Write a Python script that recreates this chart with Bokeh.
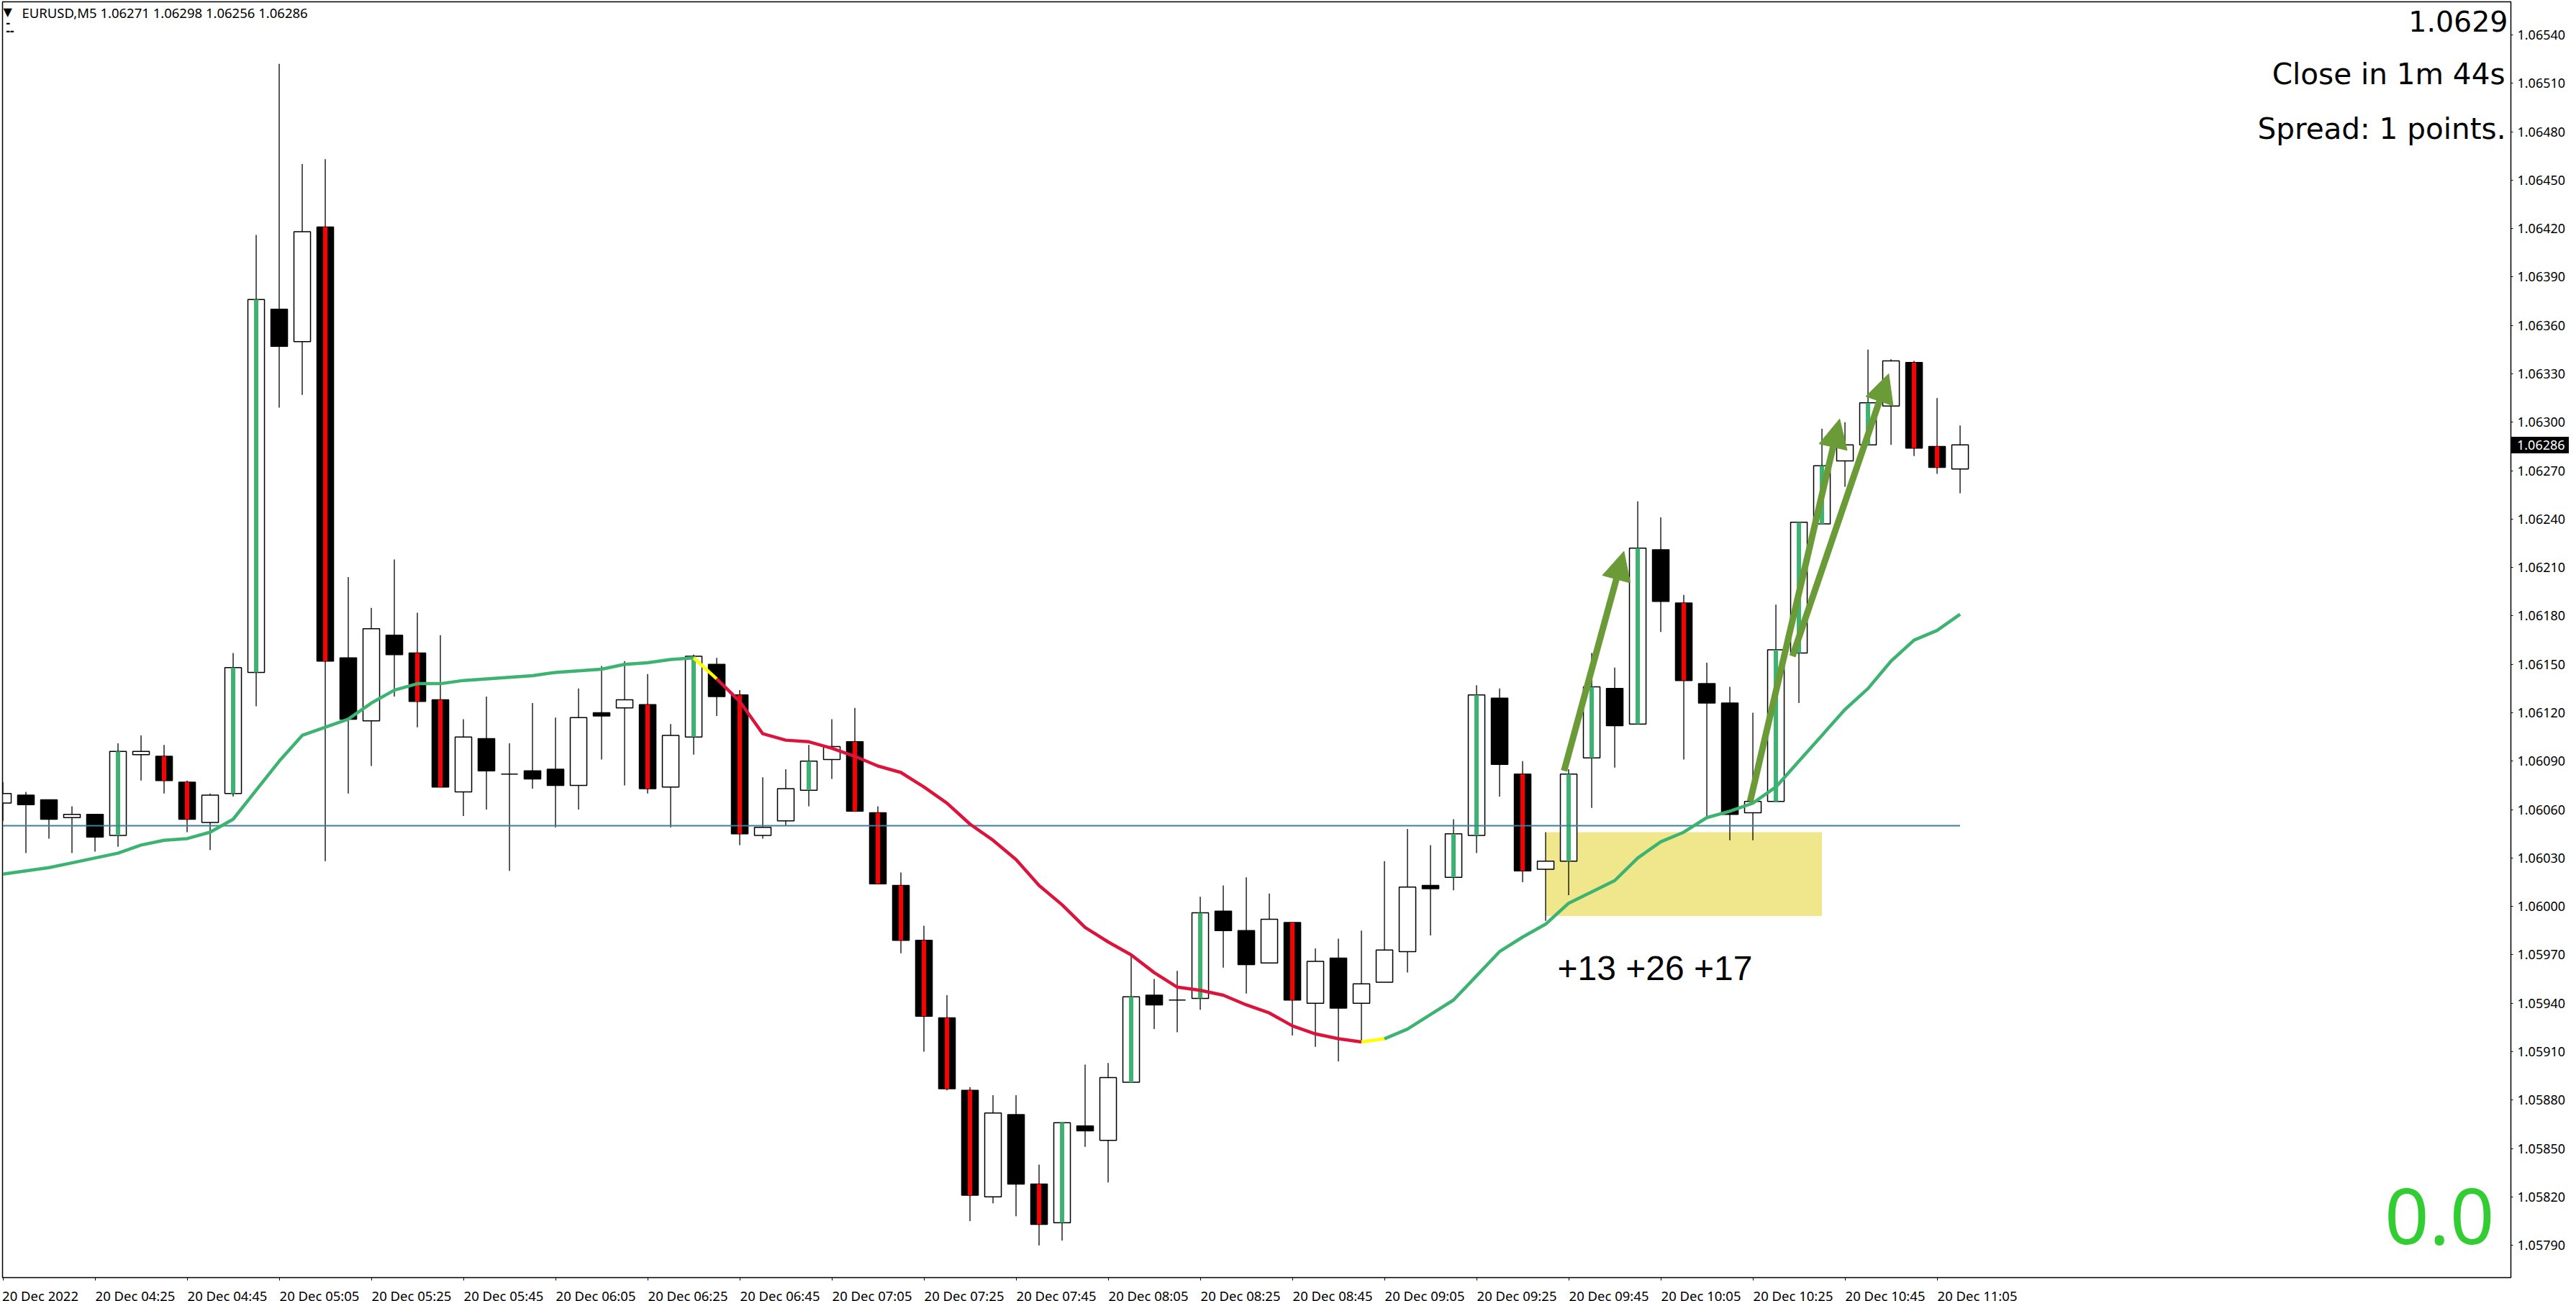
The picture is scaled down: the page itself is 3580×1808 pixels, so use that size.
# eurusd_m5.py

from bokeh.embed import file_html
from bokeh.layouts import column
from bokeh.models import Arrow, Div, FixedTicker, Label, NormalHead, PrintfTickFormatter, Range1d
from bokeh.plotting import figure
from bokeh.resources import INLINE

# Candles, one row of ten per 50 minutes
open_data = [
    1.06064, 1.06069, 1.06066, 1.06055, 1.06057, 1.06044, 1.06094, 1.06093, 1.06077, 1.06052,
    1.06070, 1.06145, 1.06370, 1.06350, 1.06421, 1.06154, 1.06115, 1.06168, 1.06157, 1.06128,
    1.06071, 1.06104, 1.06082, 1.06084, 1.06085, 1.06075, 1.06120, 1.06123, 1.06125, 1.06074,
    1.06105, 1.06150, 1.06131, 1.06044, 1.06053, 1.06072, 1.06091, 1.06102, 1.06058, 1.06013,
    1.05979, 1.05931, 1.05886, 1.05820, 1.05871, 1.05828, 1.05804, 1.05864, 1.05855, 1.05891,
    1.05945, 1.05942, 1.05943, 1.05997, 1.05985, 1.05965, 1.05990, 1.05940, 1.05968, 1.05940,
    1.05953, 1.05972, 1.06013, 1.06018, 1.06044, 1.06129, 1.06082, 1.06023, 1.06028, 1.06092,
    1.06135, 1.06113, 1.06221, 1.06188, 1.06138, 1.06126, 1.06058, 1.06065, 1.06157, 1.06237,
    1.06276, 1.06286, 1.06310, 1.06337, 1.06285, 1.06271,
]
high_data = [
    1.06077, 1.06071, 1.06066, 1.06062, 1.06057, 1.06101, 1.06106, 1.06100, 1.06078, 1.06070,
    1.06157, 1.06416, 1.06522, 1.06460, 1.06463, 1.06204, 1.06185, 1.06215, 1.06182, 1.06168,
    1.06116, 1.06130, 1.06101, 1.06126, 1.06117, 1.06135, 1.06149, 1.06152, 1.06144, 1.06113,
    1.06156, 1.06154, 1.06134, 1.06080, 1.06085, 1.06100, 1.06116, 1.06123, 1.06062, 1.06021,
    1.05988, 1.05945, 1.05888, 1.05883, 1.05883, 1.05840, 1.05866, 1.05902, 1.05903, 1.05970,
    1.05955, 1.05960, 1.06006, 1.06013, 1.06018, 1.06008, 1.05990, 1.05974, 1.05980, 1.05985,
    1.06028, 1.06048, 1.06038, 1.06054, 1.06137, 1.06135, 1.06090, 1.06046, 1.06085, 1.06157,
    1.06148, 1.06251, 1.06241, 1.06193, 1.06151, 1.06136, 1.06120, 1.06187, 1.06238, 1.06296,
    1.06300, 1.06345, 1.06339, 1.06338, 1.06315, 1.06298,
]
low_data = [
    1.06053, 1.06033, 1.06042, 1.06033, 1.06034, 1.06037, 1.06078, 1.06070, 1.06046, 1.06035,
    1.06068, 1.06124, 1.06309, 1.06317, 1.06028, 1.06070, 1.06087, 1.06130, 1.06111, 1.06074,
    1.06056, 1.06060, 1.06022, 1.06073, 1.06049, 1.06060, 1.06091, 1.06075, 1.06070, 1.06049,
    1.06094, 1.06118, 1.06038, 1.06042, 1.06050, 1.06062, 1.06079, 1.06059, 1.06014, 1.05971,
    1.05910, 1.05886, 1.05805, 1.05816, 1.05808, 1.05790, 1.05793, 1.05851, 1.05829, 1.05891,
    1.05924, 1.05922, 1.05936, 1.05962, 1.05946, 1.05965, 1.05920, 1.05913, 1.05904, 1.05916,
    1.05953, 1.05959, 1.05982, 1.06010, 1.06033, 1.06068, 1.06015, 1.05991, 1.06007, 1.06061,
    1.06086, 1.06113, 1.06170, 1.06091, 1.06056, 1.06041, 1.06041, 1.06065, 1.06126, 1.06237,
    1.06260, 1.06286, 1.06286, 1.06279, 1.06268, 1.06256,
]
close_data = [
    1.06070, 1.06063, 1.06054, 1.06057, 1.06043, 1.06096, 1.06096, 1.06078, 1.06054, 1.06069,
    1.06148, 1.06376, 1.06347, 1.06418, 1.06152, 1.06116, 1.06172, 1.06156, 1.06127, 1.06074,
    1.06105, 1.06084, 1.06082, 1.06079, 1.06075, 1.06117, 1.06118, 1.06128, 1.06073, 1.06106,
    1.06155, 1.06130, 1.06045, 1.06049, 1.06073, 1.06090, 1.06099, 1.06059, 1.06014, 1.05979,
    1.05932, 1.05887, 1.05821, 1.05872, 1.05828, 1.05803, 1.05866, 1.05861, 1.05894, 1.05944,
    1.05939, 1.05942, 1.05996, 1.05985, 1.05964, 1.05992, 1.05942, 1.05966, 1.05937, 1.05952,
    1.05973, 1.06012, 1.06011, 1.06045, 1.06131, 1.06088, 1.06022, 1.06028, 1.06082, 1.06136,
    1.06112, 1.06222, 1.06189, 1.06140, 1.06126, 1.06057, 1.06065, 1.06159, 1.06238, 1.06273,
    1.06286, 1.06312, 1.06338, 1.06284, 1.06272, 1.06286,
]

# Moving average, same bars
ma_data = [
    1.06020, 1.06022, 1.06024, 1.06027, 1.06030, 1.06033, 1.06038, 1.06041, 1.06042, 1.06046,
    1.06054, 1.06072, 1.06090, 1.06106, 1.06111, 1.06116, 1.06126, 1.06134, 1.06138, 1.06138,
    1.06140, 1.06141, 1.06142, 1.06143, 1.06145, 1.06146, 1.06147, 1.06150, 1.06151, 1.06153,
    1.06154, 1.06141, 1.06127, 1.06107, 1.06103, 1.06102, 1.06098, 1.06093, 1.06087, 1.06083,
    1.06074, 1.06064, 1.06051, 1.06041, 1.06029, 1.06013, 1.06001, 1.05987, 1.05978, 1.05970,
    1.05959, 1.05950, 1.05948, 1.05945, 1.05939, 1.05934, 1.05926, 1.05921, 1.05918, 1.05916,
    1.05918, 1.05924, 1.05933, 1.05942, 1.05957, 1.05972, 1.05981, 1.05989, 1.06002, 1.06009,
    1.06016, 1.06030, 1.06040, 1.06046, 1.06055, 1.06059, 1.06064, 1.06074, 1.06090, 1.06106,
    1.06122, 1.06135, 1.06152, 1.06165, 1.06171, 1.06181,
]

# Bars carrying the thick indicator stroke
green_bars = [5, 10, 11, 30, 35, 46, 49, 52, 63, 64, 68, 69, 71, 77, 78, 79, 81]
red_bars = [7, 8, 14, 18, 19, 28, 32, 37, 38, 39, 40, 41, 42, 45, 56, 66, 73, 83, 84]

price_ticks = [1.0579, 1.0582, 1.0585, 1.0588, 1.0591, 1.0594, 1.0597, 1.0600, 1.0603,
               1.0606, 1.0609, 1.0612, 1.0615, 1.0618, 1.0621, 1.0624, 1.0627, 1.0630,
               1.0633, 1.0636, 1.0639, 1.0642, 1.0645, 1.0648, 1.0651, 1.0654]
time_labels = ["20 Dec 2022", "20 Dec 04:25", "20 Dec 04:45", "20 Dec 05:05", "20 Dec 05:25",
               "20 Dec 05:45", "20 Dec 06:05", "20 Dec 06:25", "20 Dec 06:45", "20 Dec 07:05",
               "20 Dec 07:25", "20 Dec 07:45", "20 Dec 08:05", "20 Dec 08:25", "20 Dec 08:45",
               "20 Dec 09:05", "20 Dec 09:25", "20 Dec 09:45", "20 Dec 10:05", "20 Dec 10:25",
               "20 Dec 10:45", "20 Dec 11:05"]
level_price = 1.06050
zone_bars = [67, 79]
zone_prices = [1.05994, 1.06046]
# start bar, start price, end bar, end price
arrow_1 = [67.8, 1.06084, 70.4, 1.06220]
arrow_2 = [75.88, 1.06065, 79.77, 1.06302]
arrow_3 = [77.72, 1.06155, 81.9, 1.06330]

FRAME_W = 3486
FRAME_H = 1773

bars = list(range(len(open_data)))
up = [b for b in bars if close_data[b] >= open_data[b]]
down = [b for b in bars if close_data[b] < open_data[b]]

p = figure(
    x_range=Range1d(-0.016, 108.92), y_range=Range1d(1.05770, 1.065605),
    y_axis_location="right", frame_width=FRAME_W, frame_height=FRAME_H,
    min_border_left=3, min_border_top=2, min_border_right=83, min_border_bottom=25,
    output_backend="svg", toolbar_location=None,
    background_fill_color="white", border_fill_color="white",
)
p.grid.visible = False
p.outline_line_color = "black"
p.outline_line_width = 1.5

# Axes: major ticks only place the labels, minor ticks are the visible marks
tick_bars = [b for b in bars if b % 4 == 0]
label_pos = [1.625] + [b + 1.75 for b in tick_bars[1:]]
p.xaxis.ticker = FixedTicker(ticks=label_pos, minor_ticks=tick_bars)
p.xaxis.major_label_overrides = dict(zip(label_pos, time_labels))
p.xaxis.major_tick_line_color = None
p.xaxis.major_tick_in = 0
p.xaxis.major_tick_out = 0
p.xaxis.minor_tick_in = 0
p.xaxis.minor_tick_out = 4
p.xaxis.minor_tick_line_color = "black"
p.xaxis.axis_line_color = None
p.xaxis.major_label_standoff = 8
p.xaxis.major_label_text_font = "Noto Sans"
p.xaxis.major_label_text_font_size = "18.5px"
p.xaxis.major_label_text_color = "black"

p.yaxis.ticker = FixedTicker(ticks=price_ticks)
p.yaxis.formatter = PrintfTickFormatter(format="%.5f")
p.yaxis.major_tick_in = 0
p.yaxis.major_tick_out = 3
p.yaxis.minor_tick_line_color = None
p.yaxis.axis_line_color = None
p.yaxis.major_label_standoff = 6
p.yaxis.major_label_text_font = "Noto Sans"
p.yaxis.major_label_text_font_size = "18px"
p.yaxis.major_label_text_color = "black"

# Zone and level under the candles
p.quad(left=zone_bars[0], right=zone_bars[1], bottom=zone_prices[0], top=zone_prices[1],
       fill_color="#F0E68C", line_color=None)

# Candles
p.segment(bars, low_data, bars, high_data, line_color="black", line_width=1.3)
p.vbar(x=up, width=0.72, top=[close_data[b] for b in up], bottom=[open_data[b] for b in up],
       fill_color="white", line_color="black", line_width=1.5)
p.vbar(x=down, width=0.72, top=[open_data[b] for b in down], bottom=[close_data[b] for b in down],
       fill_color="black", line_color="black", line_width=1.5)
p.segment(green_bars, [open_data[b] for b in green_bars], green_bars, [close_data[b] for b in green_bars],
          line_color="#3CB371", line_width=6)
p.segment(red_bars, [open_data[b] for b in red_bars], red_bars, [close_data[b] for b in red_bars],
          line_color="#FF0000", line_width=6)

p.line([bars[0], bars[-1]], [level_price, level_price], line_color="#3F7F9A", line_width=2)

# Moving average changes colour with its slope
p.line(bars[:31], ma_data[:31], line_color="#3CB371", line_width=4.5, line_join="round")
p.line(bars[30:32], ma_data[30:32], line_color="#FFFF00", line_width=4.5)
p.line(bars[31:60], ma_data[31:60], line_color="#DC143C", line_width=4.5, line_join="round")
p.line(bars[59:61], ma_data[59:61], line_color="#FFFF00", line_width=4.5)
p.line(bars[60:], ma_data[60:], line_color="#3CB371", line_width=4.5, line_join="round")

# Trade arrows
for a in (arrow_1, arrow_2, arrow_3):
    head = NormalHead(size=40, fill_color="#6B9B37", line_color="#6B9B37", line_width=1)
    p.add_layout(Arrow(end=head, x_start=a[0], y_start=a[1], x_end=a[2], y_end=a[3],
                       line_color="#6B9B37", line_width=9))


def add_text(text, px, py, font, size, color="black", align="left", **kw):
    # px, py are page pixels measured from the top left
    p.add_layout(Label(x=px - 3, y=FRAME_H - (py - 2), x_units="screen", y_units="screen",
                       text=text, text_font=font, text_font_size=size, text_color=color,
                       text_align=align, text_baseline="middle", **kw))


add_text("\u25bc", 4, 16, "DejaVu Sans", "16px")
add_text("EURUSD,M5  1.06271 1.06298 1.06256 1.06286", 30, 17, "Noto Sans", "18.5px")
add_text("-", 8, 31, "Noto Sans", "17px", text_font_style="bold")
add_text("--", 8, 42, "Noto Sans", "17px", text_font_style="bold")

add_text("1.0629", 3485, 29, "DejaVu Sans", "39.5px", align="right")
add_text("Close in 1m 44s", 3481, 102, "DejaVu Sans", "40.5px", align="right")
add_text("Spread: 1 points.", 3482, 178, "DejaVu Sans", "40.5px", align="right")
add_text("0.0", 3466, 1689, "Noto Sans", "108px", color="#32CD32", align="right")
add_text("+13 +26 +17", 2164, 1345, "Liberation Sans", "48px")

# Last price tag: anything in the figure is clipped to the frame, so it sits over the scale as a Div
tag = Div(text="%.5f" % close_data[-1], width=80, height=23, margin=0,
          styles={"position": "absolute", "left": "3490px", "top": "607px", "background": "black",
                  "color": "white", "font-family": "Noto Sans", "font-size": "18px",
                  "line-height": "23px", "padding-left": "8px", "box-sizing": "border-box"})
page = column(p, tag, spacing=0, margin=0)

open("out.html", "w").write(file_html(page, INLINE))
